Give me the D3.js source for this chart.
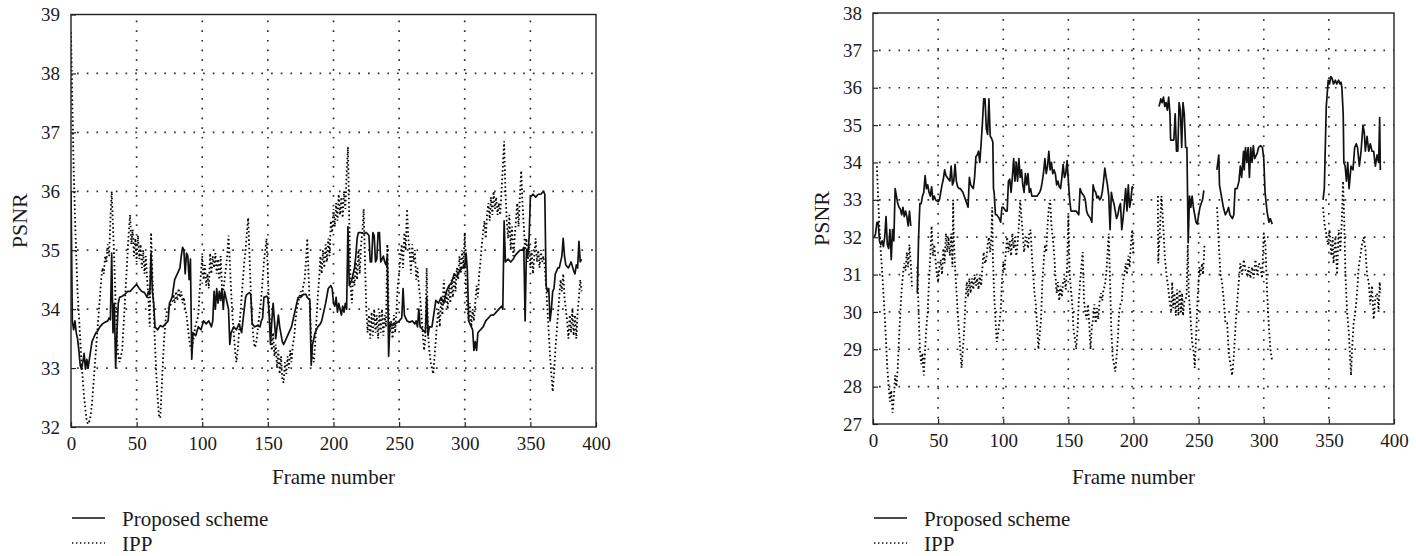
<!DOCTYPE html>
<html>
<head>
<meta charset="utf-8">
<script src="https://cdn.jsdelivr.net/npm/d3@7"></script>
<style>
  body { margin: 0; background: #fff; }
  svg text { font-family: "Liberation Serif", "Times New Roman", serif; fill: #1a1a1a; }
</style>
</head>
<body>
<svg id="fig" width="1416" height="556"></svg>
<script>
// Frame axis is shared by both panels
var frameTicks = [0, 50, 100, 150, 200, 250, 300, 350, 400];
var psnrTicksA = [32, 33, 34, 35, 36, 37, 38, 39];
var psnrTicksB = [27, 28, 29, 30, 31, 32, 33, 34, 35, 36, 37, 38];
var legendLabels = ['Proposed scheme', 'IPP'];

// Left panel, [frame, PSNR]
var proposedA = [
  [0,36.0],[1,33.8],[2,33.65],[3,33.8],[4,33.6],[5,33.5],[6,33.3],[7,33.05],[8,32.98],[9,33.1],[10,33.25],[11,32.98],[12,33.15],[13,33.0],[14,33.15],[15,33.3],[16,33.45],[17,33.5],[18,33.55],[19,33.6],[20,33.62],[22,33.7],[24,33.75],[26,33.78],[28,33.8],[29,33.85],[30,33.82],[31,34.95],[32,33.6],[33,34.1],[34,33.0],[35,33.6],[36,34.1],[37,34.2],[39,34.22],[41,34.25],[43,34.3],[45,34.3],[47,34.35],[49,34.4],[50,34.42],[52,34.35],[54,34.3],[56,34.28],[58,34.2],[59,34.3],[60,34.25],[61,34.95],[62,34.3],[63,34.1],[64,33.7],[66,33.65],[68,33.72],[70,33.7],[72,33.75],[74,33.8],[75,34.1],[77,34.2],[79,34.5],[81,34.6],[83,34.7],[84,34.9],[85,35.05],[86,35.0],[87,34.6],[88,34.95],[89,34.9],[90,34.5],[91,34.85],[92,33.15],[93,33.6],[95,33.55],[97,33.7],[99,33.65],[101,33.8],[103,33.75],[105,33.8],[107,33.7],[108,33.8],[109,34.3],[110,34.0],[111,34.35],[112,34.1],[113,34.3],[114,34.15],[115,34.35],[116,34.0],[117,34.3],[118,34.2],[119,34.1],[120,34.0],[121,33.4],[122,33.6],[124,33.7],[126,33.65],[128,33.75],[130,33.6],[131,33.8],[133,34.2],[134,34.25],[136,34.28],[137,34.25],[138,33.75],[140,33.7],[142,33.72],[144,33.7],[145,33.8],[146,33.85],[147,34.2],[149,34.22],[150,34.2],[151,33.9],[152,33.4],[153,33.8],[154,34.1],[155,33.8],[156,33.5],[158,33.9],[159,33.7],[161,33.45],[162,33.4],[164,33.5],[166,33.6],[168,33.7],[170,33.9],[171,34.0],[173,34.2],[175,34.2],[177,34.25],[179,34.25],[180,34.2],[182,34.15],[183,33.05],[184,33.4],[186,33.6],[188,33.7],[190,33.75],[191,33.8],[193,34.0],[194,34.1],[196,34.35],[198,34.4],[199,34.35],[200,34.1],[201,34.05],[202,34.2],[203,33.95],[204,34.1],[205,34.0],[206,33.9],[207,34.05],[208,33.95],[209,34.1],[210,34.0],[211,35.4],[212,34.4],[213,34.45],[214,34.5],[216,34.7],[217,34.9],[218,35.2],[219,35.3],[221,35.3],[223,35.28],[225,35.3],[227,35.25],[228,34.8],[229,34.8],[230,35.3],[231,35.25],[232,34.8],[233,34.85],[234,35.3],[235,35.3],[236,34.8],[237,34.85],[238,34.9],[239,34.8],[240,34.75],[241,34.9],[242,33.2],[243,33.75],[245,33.72],[247,33.75],[249,33.78],[250,33.8],[252,33.85],[253,34.35],[254,33.9],[256,33.8],[258,33.78],[260,33.8],[262,33.75],[263,33.8],[264,33.7],[265,34.0],[266,33.7],[268,33.65],[270,33.6],[271,34.2],[272,33.55],[273,33.7],[275,33.7],[277,34.0],[278,34.15],[280,34.1],[282,34.2],[284,34.1],[286,34.3],[288,34.4],[290,34.45],[292,34.6],[294,34.55],[296,34.65],[298,34.7],[300,34.7],[301,34.95],[302,34.65],[303,33.8],[304,33.75],[305,33.7],[306,33.65],[307,33.3],[308,33.45],[309,33.3],[310,33.6],[312,33.65],[314,33.7],[316,33.8],[318,33.85],[320,33.9],[322,33.9],[324,33.95],[326,34.0],[328,34.05],[329,34.0],[330,35.5],[331,34.8],[333,34.85],[335,34.8],[337,34.85],[338,34.9],[340,34.95],[342,35.0],[344,35.0],[345,35.05],[346,33.8],[347,35.0],[348,34.9],[349,35.2],[350,35.9],[352,35.95],[354,35.9],[356,35.95],[358,35.95],[360,36.0],[361,35.95],[362,34.4],[363,34.3],[364,34.35],[365,33.8],[366,34.0],[367,34.3],[368,34.35],[369,34.6],[371,34.7],[372,34.7],[374,34.9],[375,35.2],[376,34.9],[377,34.75],[379,34.7],[381,34.8],[383,34.65],[384,34.6],[385,34.75],[386,34.7],[387,35.15],[388,34.8],[389,34.85]
];

var ippA = [
  [0,38.7],[1,37.5],[2,36.4],[3,35.6],[4,34.9],[5,34.3],[6,33.9],[7,33.5],[8,33.1],[9,32.8],[10,32.5],[11,32.3],[12,32.1],[13,32.05],[14,32.1],[15,32.2],[16,32.4],[17,32.7],[18,33.0],[19,33.3],[20,33.6],[21,33.9],[22,34.2],[23,34.5],[24,34.7],[25,34.6],[26,34.9],[27,34.8],[28,35.1],[29,34.9],[30,35.5],[31,36.0],[32,35.4],[33,34.8],[34,34.1],[35,33.5],[36,33.2],[37,33.1],[38,33.2],[39,33.3],[40,33.7],[41,34.1],[42,34.5],[43,34.9],[44,35.3],[45,35.6],[46,35.1],[47,35.35],[48,34.9],[49,35.2],[50,34.8],[51,35.25],[52,34.85],[53,35.1],[54,34.7],[55,35.0],[56,34.6],[57,34.9],[58,34.5],[59,34.2],[60,33.7],[61,35.3],[62,34.6],[63,34.0],[64,33.4],[65,32.9],[66,32.5],[67,32.2],[68,32.15],[69,32.6],[70,33.1],[71,33.5],[72,33.8],[73,33.95],[74,34.0],[75,34.05],[77,34.1],[78,34.25],[79,34.1],[80,34.3],[81,34.15],[82,34.35],[83,34.2],[84,34.3],[85,34.1],[86,34.2],[87,34.0],[88,33.9],[89,33.7],[90,33.5],[91,33.35],[92,33.3],[93,33.45],[94,33.6],[95,33.75],[96,33.8],[97,33.9],[98,34.3],[99,34.6],[100,34.9],[101,34.5],[102,34.75],[103,34.4],[104,34.6],[105,34.35],[106,34.95],[107,34.6],[108,34.9],[109,34.7],[110,34.95],[111,34.6],[112,34.85],[113,34.5],[114,34.9],[115,34.4],[116,34.3],[117,34.5],[118,34.7],[119,34.9],[120,35.25],[121,34.8],[122,34.3],[123,33.9],[124,33.6],[125,33.3],[126,33.1],[127,33.3],[128,33.6],[129,33.9],[130,34.2],[131,34.5],[132,34.8],[133,35.0],[134,35.3],[135,35.55],[136,34.9],[137,34.3],[138,33.8],[139,33.5],[140,33.35],[141,33.4],[142,33.6],[143,33.8],[144,34.0],[145,34.2],[146,34.5],[147,34.8],[148,35.0],[149,35.2],[150,34.6],[151,34.0],[152,33.6],[153,33.3],[154,33.6],[155,33.2],[156,33.4],[157,33.0],[158,33.3],[159,32.9],[160,33.2],[161,32.8],[162,32.75],[163,33.1],[164,32.9],[165,33.2],[166,33.0],[167,33.3],[168,33.1],[169,33.4],[170,33.5],[171,33.8],[172,34.0],[173,34.1],[174,34.2],[175,34.3],[176,34.2],[177,34.4],[178,34.5],[179,34.8],[180,35.2],[181,34.6],[182,34.0],[183,33.5],[184,33.2],[185,33.1],[186,33.4],[187,33.8],[188,34.2],[189,34.5],[190,34.9],[191,34.6],[192,35.0],[193,34.7],[194,35.1],[195,34.8],[196,35.2],[197,34.9],[198,35.5],[199,35.3],[200,35.7],[201,35.4],[202,35.8],[203,35.5],[204,35.95],[205,35.6],[206,35.9],[207,35.55],[208,36.0],[209,35.7],[210,36.3],[211,36.75],[212,35.5],[213,34.4],[214,34.1],[215,34.6],[216,34.4],[217,34.8],[218,34.5],[219,35.0],[220,34.6],[221,35.1],[222,35.3],[223,35.7],[224,34.8],[225,34.0],[226,33.6],[227,33.9],[228,33.5],[229,33.95],[230,33.55],[231,34.0],[232,33.6],[233,33.9],[234,33.5],[235,33.95],[236,33.6],[237,34.0],[238,33.55],[239,33.9],[240,33.7],[241,35.1],[242,34.0],[243,33.6],[244,33.8],[245,33.5],[246,33.9],[247,33.6],[248,34.0],[249,34.4],[250,34.6],[251,34.9],[252,35.1],[253,34.7],[254,35.3],[255,35.0],[256,35.7],[257,35.2],[258,35.0],[259,34.6],[260,35.1],[261,34.8],[262,35.0],[263,34.5],[264,34.7],[265,34.4],[266,34.2],[267,33.9],[268,33.6],[269,33.3],[270,33.5],[271,34.7],[272,33.6],[273,33.3],[274,33.1],[275,33.0],[276,32.9],[277,33.2],[278,33.5],[279,33.8],[280,34.0],[281,33.7],[282,34.2],[283,33.9],[284,34.5],[285,34.1],[286,34.3],[287,34.0],[288,34.4],[289,34.1],[290,34.5],[291,34.2],[292,34.6],[293,34.3],[294,34.7],[295,34.5],[296,34.9],[297,34.6],[298,35.0],[299,34.7],[300,35.3],[301,34.3],[302,34.0],[303,33.8],[304,34.1],[305,33.7],[306,34.0],[307,33.8],[308,34.1],[309,34.4],[310,34.2],[311,34.6],[312,34.8],[313,35.1],[314,35.3],[315,35.5],[316,35.2],[317,35.6],[318,35.8],[319,35.5],[320,35.9],[321,35.6],[322,36.0],[323,35.7],[324,35.9],[325,35.6],[326,35.8],[327,35.6],[328,36.0],[329,36.4],[330,36.85],[331,36.0],[332,35.5],[333,35.2],[334,35.6],[335,35.0],[336,35.4],[337,34.9],[338,35.2],[339,35.5],[340,35.8],[341,35.4],[342,35.9],[343,36.35],[344,35.8],[345,35.4],[346,35.0],[347,35.2],[348,34.8],[349,35.1],[350,34.7],[351,35.0],[352,34.6],[353,34.9],[354,35.2],[355,34.8],[356,35.0],[357,34.7],[358,35.0],[359,34.8],[360,34.9],[361,34.7],[362,34.4],[363,34.0],[364,33.6],[365,33.2],[366,32.9],[367,32.6],[368,32.9],[369,33.3],[370,33.6],[371,33.9],[372,34.2],[373,34.5],[374,34.3],[375,34.6],[376,34.2],[377,34.0],[378,33.8],[379,33.5],[380,33.9],[381,33.6],[382,34.0],[383,33.55],[384,33.9],[385,33.5],[386,33.95],[387,34.2],[388,34.5],[389,34.3]
];

// Right panel, null marks frames with no data
var proposedB = [
  [1,32.0],[2,32.1],[3,32.4],[4,32.4],[5,31.9],[6,31.8],[7,31.9],[8,31.75],[9,32.0],[10,32.55],[11,31.8],[12,31.7],[13,32.2],[14,31.4],[15,32.2],[16,31.9],[17,33.3],[18,33.1],[19,32.9],[20,32.8],[21,32.75],[22,32.6],[23,32.8],[24,32.55],[25,32.7],[26,32.55],[27,32.3],[28,32.7],[29,32.3],[30,null],
  [34,30.5],[35,32.0],[36,32.9],[37,32.9],[38,33.1],[39,33.2],[40,33.65],[41,33.3],[42,33.4],[43,33.2],[44,33.1],[45,33.35],[46,33.0],[47,33.1],[48,33.0],[50,32.95],[51,33.0],[52,33.2],[53,33.4],[54,33.55],[55,33.8],[56,33.65],[57,33.6],[58,33.55],[59,33.5],[60,33.9],[61,33.4],[62,33.5],[63,33.95],[64,33.5],[65,33.35],[66,33.3],[67,33.3],[68,33.25],[69,33.2],[70,33.1],[71,33.0],[72,32.9],[73,32.8],[74,33.6],[75,33.4],[76,33.35],[77,33.3],[78,33.6],[79,34.15],[80,34.2],[81,34.3],[82,34.0],[83,34.5],[84,35.05],[85,35.7],[86,35.7],[87,34.9],[88,34.75],[89,35.7],[90,34.7],[91,34.65],[92,34.55],[92.5,33.3],[93,33.2],[94,32.6],[95,32.6],[96,32.55],[97,32.5],[98,32.4],[99,32.8],[100,32.8],[101,32.75],[102,32.7],[103,32.7],[104,33.5],[105,33.55],[106,33.2],[107,33.6],[108,34.1],[109,33.5],[110,34.0],[111,33.5],[112,34.1],[113,33.6],[114,33.8],[115,33.4],[116,33.2],[117,33.7],[118,33.4],[119,33.7],[120,33.2],[121,33.3],[122,33.1],[124,33.1],[126,33.1],[128,33.2],[129,33.3],[130,33.5],[131,33.75],[132,34.1],[133,33.7],[134,33.9],[135,34.3],[136,33.8],[137,34.0],[138,33.7],[139,33.8],[140,33.7],[141,33.4],[142,33.5],[143,33.35],[144,33.3],[145,33.6],[146,33.95],[147,33.6],[148,33.7],[149,34.05],[150,33.5],[151,33.0],[152,32.7],[154,32.7],[156,32.7],[157,32.65],[158,32.6],[159,33.3],[160,33.2],[161,33.15],[162,33.1],[163,33.0],[164,32.7],[165,32.6],[166,32.55],[167,32.5],[168,32.4],[169,33.4],[170,33.25],[171,33.2],[172,33.05],[173,33.1],[174,33.0],[175,33.05],[176,33.2],[177,33.5],[178,33.85],[179,33.6],[180,33.4],[181,33.1],[182,32.2],[183,33.2],[184,33.0],[185,32.9],[186,32.7],[187,32.5],[188,32.6],[189,32.8],[190,32.9],[191,32.2],[192,32.5],[193,32.9],[194,33.3],[195,32.7],[196,33.4],[197,32.8],[198,33.0],[199,33.35],[200,33.3],[201,null],
  [219.5,35.5],[220,35.55],[221,35.7],[222,35.6],[223,35.75],[224,35.5],[225,35.6],[226,35.4],[227,35.75],[228,35.3],[228.5,34.6],[230,34.6],[231,34.6],[232,35.3],[233,34.3],[234,34.3],[235,35.6],[236,35.4],[237,34.4],[238,35.6],[239,35.3],[240,34.4],[241,34.4],[242,31.85],[243,33.1],[244,32.8],[245,33.1],[246,32.8],[247,32.6],[248,32.4],[249,32.35],[250,32.6],[251,32.8],[253,33.0],[254,33.25],[255,null],
  [264,33.8],[265.5,34.2],[266,33.4],[268,33.0],[269,32.8],[270.5,32.6],[272,32.7],[273,32.8],[274,32.6],[276,32.5],[277,32.6],[278,33.3],[279.5,33.3],[281,33.5],[282,33.9],[283,33.6],[284.5,34.3],[285,33.8],[286,34.4],[287,34.0],[288,34.4],[289,33.6],[290,34.4],[291,34.0],[292,34.45],[293,34.1],[295,34.25],[296,34.4],[297.5,34.45],[299,34.4],[300,34.1],[301,33.2],[302.5,32.7],[304,32.4],[305,32.5],[306.5,32.35],[307,null],
  [345.5,33.0],[346.5,33.3],[348,35.5],[349.5,36.2],[350.5,36.1],[351.5,36.3],[352.5,36.25],[353.5,36.1],[355,36.2],[356,36.1],[357.5,36.2],[358.5,36.1],[359.3,36.15],[360,36.0],[361,35.3],[361.5,34.0],[362.5,33.9],[363.5,33.5],[364.5,34.0],[365.5,33.3],[367,33.9],[368.5,33.8],[369.8,34.4],[371,34.5],[372,34.4],[373.4,33.9],[374.7,34.3],[376.2,35.0],[377.2,34.8],[378,34.3],[379.3,34.7],[380.6,34.3],[381.8,34.5],[383.1,34.3],[384.4,34.3],[385.7,33.9],[387,34.2],[388.2,34.0],[389,35.2],[389.5,33.8]
];

var ippB = [
  [3,33.9],[4,33.0],[5,32.2],[6,31.6],[7,31.1],[8,30.5],[9,29.9],[10,29.2],[11,28.5],[12,28.0],[13,27.6],[14,27.9],[15,27.3],[16,27.7],[17,28.3],[18,28.0],[19,28.5],[20,29.3],[21,30.0],[22,30.6],[23,31.0],[24,31.3],[25,31.1],[26,31.6],[27,31.2],[28,31.8],[29,31.3],[30,30.6],[31,null],
  [34,31.2],[35,30.0],[36,29.0],[37,28.6],[38,28.9],[39,28.3],[40,29.0],[41,29.6],[42,30.0],[43,30.8],[44,31.5],[45,32.3],[46,31.5],[47,31.8],[48,31.4],[49,31.0],[50,30.8],[51,31.2],[52,31.4],[53,31.0],[54,31.7],[55,31.3],[56,32.1],[57,31.6],[58,32.0],[59,31.5],[60,32.1],[61,31.2],[61.5,33.0],[62,32.0],[63,31.2],[64,30.6],[65,30.0],[66,29.5],[67,29.0],[68,28.5],[69,29.0],[70,29.5],[71,30.3],[72,30.8],[73,30.4],[74,30.9],[75,30.5],[76,30.9],[77,30.6],[78,31.0],[79,30.7],[80,30.9],[81,30.6],[82,31.0],[83,30.7],[84,31.2],[85,31.6],[86,31.3],[87,31.4],[88,31.8],[89,32.0],[90,31.6],[91,32.1],[91.5,32.8],[92,31.5],[93,30.5],[94,29.8],[95,29.2],[96,29.4],[97,29.7],[98,30.0],[99,30.8],[100,31.3],[101,31.1],[102,31.6],[103,32.0],[104,31.6],[105,31.9],[106,31.5],[107,32.1],[108,31.7],[109,32.0],[110,31.5],[111,31.8],[112,32.3],[113,33.0],[114,32.5],[115,32.1],[116,31.6],[117,31.9],[118,32.0],[119,31.7],[120,32.1],[121,32.2],[122,31.5],[123,31.0],[124,30.5],[125,30.2],[126,29.6],[127,29.0],[128,29.4],[129,29.8],[130,30.8],[131,31.3],[132,31.8],[133,31.6],[134,32.3],[135,32.8],[136,33.0],[137,32.3],[138,32.0],[139,31.6],[140,31.0],[141,30.5],[142,30.8],[143,30.3],[144,30.7],[145,30.4],[146,30.8],[147,30.9],[148,30.6],[149,31.2],[150,32.6],[151,31.0],[152,30.6],[153,30.2],[154,29.5],[155,29.3],[156,29.0],[157,29.5],[158,30.3],[159,30.8],[160,31.2],[161,31.6],[162,30.3],[163,30.0],[164,29.8],[165,30.2],[166,29.7],[167,29.0],[168,29.6],[169,29.8],[170,30.2],[171,29.7],[172,30.1],[173,29.8],[174,30.3],[175,30.5],[176,30.3],[177,30.6],[178,30.7],[179,31.0],[180,31.5],[181,32.1],[182,30.8],[183,29.5],[184,28.8],[185,28.6],[186,28.4],[187,28.8],[188,29.3],[189,30.0],[190,30.2],[191,30.3],[192,30.8],[193,31.0],[194,31.3],[195,31.0],[196,31.5],[197,31.2],[198,31.8],[199,32.2],[200,31.5],[201,null],
  [218.7,33.1],[219,31.3],[220,32.0],[221.5,33.1],[222.5,32.5],[223.3,32.0],[224,31.5],[225.3,31.0],[226.5,30.7],[227.6,30.3],[229,30.0],[229.7,30.8],[230.5,30.1],[231.5,30.5],[232.5,29.9],[233.5,30.6],[234.5,29.9],[235.5,30.6],[236.5,30.0],[237.3,30.5],[238,29.9],[239.1,30.3],[240.7,30.4],[241.7,31.8],[242.4,30.5],[243.7,29.9],[245,29.2],[246.3,28.9],[247,28.5],[248,29.3],[249.3,30.4],[250.6,31.2],[251.4,31.0],[252.7,31.3],[253.4,31.0],[254.5,31.8],[255,null],
  [264.2,32.8],[265.5,31.8],[266.8,31.0],[268,30.8],[269.3,30.3],[270.6,29.7],[271.9,29.7],[273.1,28.9],[274.4,28.6],[275.7,28.3],[277,28.8],[278.3,29.6],[279.5,30.2],[280.8,30.8],[282,31.3],[283.4,31.0],[284.7,31.4],[286,31.1],[287.2,31.0],[288.5,31.2],[289.8,30.9],[291,31.2],[292.3,30.9],[293.6,31.4],[294.9,31.0],[296.2,31.3],[297.4,31.2],[298.7,30.9],[300,32.1],[301.3,31.8],[302.6,30.5],[303.8,29.7],[305.1,29.0],[306.4,28.7],[307,null],
  [345.5,32.8],[346.8,32.3],[348,32.1],[349.3,31.8],[350.6,32.2],[351.9,31.5],[353,32.0],[353.6,31.3],[355,32.0],[356.3,31.0],[357.5,32.2],[358.8,31.6],[360,32.5],[360.9,33.5],[361.9,32.3],[362.7,31.0],[364,30.0],[365.2,29.5],[366,29.0],[367,28.3],[367.8,29.0],[369,29.7],[370.3,30.0],[371.6,30.5],[372.9,31.2],[374.2,31.5],[375.4,31.8],[376.7,32.0],[378,31.7],[379.3,31.0],[380.6,30.8],[381.8,30.2],[383.1,30.7],[384.4,29.8],[385.7,30.4],[387,30.5],[388.2,30.0],[389,30.8],[389.5,30.5]
];

var serif = '"Liberation Serif", "Times New Roman", serif';
var svg = d3.select('#fig');

function drawPanel(id, box, psnrTicks, proposed, ipp) {
  var x = d3.scaleLinear().domain([0, 400]).range([box.left, box.right]);
  var y = d3.scaleLinear()
    .domain([psnrTicks[0], psnrTicks[psnrTicks.length - 1]])
    .range([box.bottom, box.top]);

  var g = svg.append('g').attr('class', 'panel-' + id);

  g.append('clipPath').attr('id', 'clip-' + id)
    .append('rect')
    .attr('x', box.left).attr('y', box.top)
    .attr('width', box.right - box.left).attr('height', box.bottom - box.top);

  // dotted grid
  g.append('g').selectAll('line')
    .data(frameTicks.slice(1, -1))
    .join('line')
    .attr('x1', function (d) { return x(d); })
    .attr('x2', function (d) { return x(d); })
    .attr('y1', box.top + 6).attr('y2', box.bottom)
    .attr('stroke', '#333').attr('stroke-width', 1.7)
    .attr('stroke-dasharray', '1.7,8');
  g.append('g').selectAll('line')
    .data(psnrTicks.slice(1, -1))
    .join('line')
    .attr('x1', box.left + 6).attr('x2', box.right)
    .attr('y1', function (d) { return y(d); })
    .attr('y2', function (d) { return y(d); })
    .attr('stroke', '#333').attr('stroke-width', 1.7)
    .attr('stroke-dasharray', '1.7,8');

  // inner ticks on bottom and left
  var xAxis = g.append('g')
    .attr('transform', 'translate(0,' + box.bottom + ')')
    .call(d3.axisBottom(x).tickValues(frameTicks).tickSize(-5).tickPadding(10).tickFormat(d3.format('d')));
  var yAxis = g.append('g')
    .attr('transform', 'translate(' + box.left + ',0)')
    .call(d3.axisLeft(y).tickValues(psnrTicks).tickSize(-5).tickPadding(11).tickFormat(d3.format('d')));
  [xAxis, yAxis].forEach(function (a) {
    a.attr('font-family', serif).attr('font-size', 19);
    a.select('.domain').remove();
    a.selectAll('line').attr('stroke', '#222').attr('stroke-width', 1.2);
    a.selectAll('text').attr('fill', '#1a1a1a').style('font-family', serif);
  });

  var line = d3.line()
    .defined(function (d) { return d[1] !== null; })
    .x(function (d) { return x(d[0]); })
    .y(function (d) { return y(d[1]); });

  var plot = g.append('g').attr('clip-path', 'url(#clip-' + id + ')');
  plot.append('path').datum(ipp)
    .attr('d', line).attr('fill', 'none')
    .attr('stroke', '#000').attr('stroke-width', 1.8)
    .attr('stroke-dasharray', '1.6,2.6');
  plot.append('path').datum(proposed)
    .attr('d', line).attr('fill', 'none')
    .attr('stroke', '#111').attr('stroke-width', 1.7)
    .attr('stroke-linejoin', 'round');

  // plot frame
  g.append('rect')
    .attr('x', box.left).attr('y', box.top)
    .attr('width', box.right - box.left).attr('height', box.bottom - box.top)
    .attr('fill', 'none').attr('stroke', '#222').attr('stroke-width', 1.4);

  // axis titles
  var cy = (box.top + box.bottom) / 2;
  g.append('text')
    .attr('transform', 'translate(' + (box.left - 44) + ',' + cy + ') rotate(-90)')
    .attr('text-anchor', 'middle')
    .attr('font-size', 22)
    .text('PSNR');
  g.append('text')
    .attr('x', (box.left + box.right) / 2).attr('y', 484)
    .attr('text-anchor', 'middle')
    .attr('font-size', 21)
    .text('Frame number');

  // legend below the axis
  var leg = g.append('g').attr('transform', 'translate(' + box.left + ',0)');
  leg.append('line')
    .attr('x1', 1).attr('x2', 34).attr('y1', 518).attr('y2', 518)
    .attr('stroke', '#111').attr('stroke-width', 1.7);
  leg.append('line')
    .attr('x1', 1).attr('x2', 34).attr('y1', 543).attr('y2', 543)
    .attr('stroke', '#111').attr('stroke-width', 1.4).attr('stroke-dasharray', '1.4,2.6');
  leg.selectAll('text.lab')
    .data(legendLabels)
    .join('text')
    .attr('class', 'lab')
    .attr('x', 51)
    .attr('y', function (d, i) { return 526 + i * 25; })
    .attr('font-size', 21)
    .text(function (d) { return d; });
}

drawPanel('a', { left: 71, right: 596, top: 14.5, bottom: 427 }, psnrTicksA, proposedA, ippA);
drawPanel('b', { left: 873, right: 1394, top: 13, bottom: 424 }, psnrTicksB, proposedB, ippB);
</script>
</body>
</html>
